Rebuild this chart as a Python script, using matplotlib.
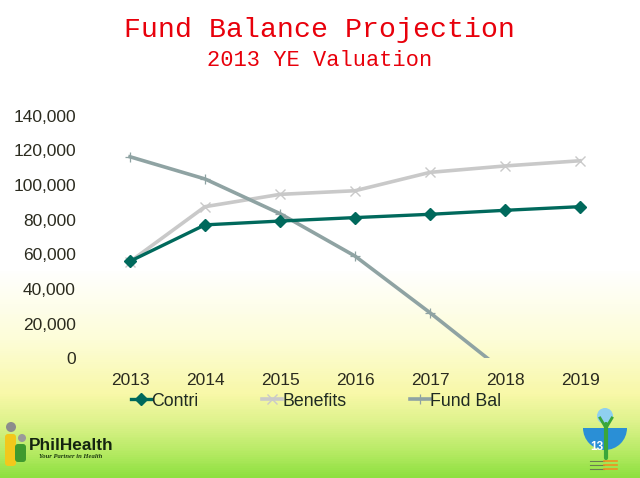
import matplotlib
matplotlib.use("Agg")
import matplotlib.pyplot as plt
import numpy as np
from matplotlib.colors import LinearSegmentedColormap
from matplotlib.patches import Circle, FancyBboxPatch, Wedge

years = ["2013", "2014", "2015", "2016", "2017", "2018", "2019"]
contri = [56000, 77000, 79200, 81200, 83100, 85400, 87500]
benefits = [55800, 87500, 94600, 96700, 107300, 111000, 114000]
fund_bal = [116300, 103500, 83500, 59000, 26300, -8000]

yticks = [0, 20000, 40000, 60000, 80000, 100000, 120000, 140000]

W, H = 640, 478
fig = plt.figure(figsize=(W / 100, H / 100), dpi=100)

# slide background: white fading into yellow then green at the bottom
bg = fig.add_axes([0, 0, 1, 1], zorder=-10)
stops = [(0.0, "#ffffff"), (270 / H, "#ffffff"), (340 / H, "#fdfdd8"),
         (395 / H, "#f8f8a8"), (425 / H, "#dcf28a"), (455 / H, "#b4ea62"),
         (1.0, "#8ee040")]
cmap = LinearSegmentedColormap.from_list("slide", stops)
grad = np.linspace(0, 1, 478).reshape(-1, 1)
bg.imshow(grad, aspect="auto", cmap=cmap, extent=[0, W, H, 0])
bg.set_xlim(0, W)
bg.set_ylim(H, 0)
bg.axis("off")

fig.text(0.5, 1 - 37 / H, "Fund Balance Projection", ha="center", va="baseline",
         color="#e8000b", fontsize=20.3, family="Liberation Mono")
fig.text(0.5, 1 - 65.7 / H, "2013 YE Valuation", ha="center", va="baseline",
         color="#e8000b", fontsize=15.8, family="Liberation Mono")

ax = fig.add_axes([92.5 / W, 119.7 / H, 525 / W, 242.6 / H])
ax.patch.set_alpha(0)
x = np.arange(len(years))
ax.plot(x, contri, color="#00695c", lw=2.4, marker="D", ms=6, label="Contri", zorder=4)
ax.plot(x, benefits, color="#c9c9c9", lw=2.6, marker="x", ms=7, mew=1.0, label="Benefits", zorder=3)
ax.plot(x[:len(fund_bal)], fund_bal, color="#8fa3a3", lw=2.6, marker="+", ms=7, mew=0.9,
        label="Fund Bal", zorder=3)

ax.set_xlim(-0.5, len(years) - 0.5)
ax.set_ylim(0, 140000)
ax.set_xticks(x)
ax.set_xticklabels(years)
ax.set_yticks(yticks)
ax.set_yticklabels([f"{v:,}" for v in yticks])
ax.tick_params(length=0, labelsize=12.5, labelcolor="#2b2b1f", pad=12)
for lab in ax.get_xticklabels() + ax.get_yticklabels():
    lab.set_family("Liberation Sans")
ax.tick_params(axis="x", pad=10.5)
for s in ax.spines.values():
    s.set_visible(False)

leg = fig.legend(loc="center left", bbox_to_anchor=(131 / W, 1 - 401 / H), ncol=3,
                 frameon=False, handlelength=1.12, handletextpad=0.0, columnspacing=3.6,
                 borderpad=0, borderaxespad=0,
                 prop={"family": "Liberation Sans", "size": 12.8})
for t in leg.get_texts():
    t.set_color("#1f2a22")

# PhilHealth logo (bottom left)
logo = fig.add_axes([0, 0, 1, 1], zorder=5)
logo.set_xlim(0, W)
logo.set_ylim(H, 0)
logo.axis("off")
logo.add_patch(FancyBboxPatch((5, 434), 11, 32, boxstyle="round,pad=0,rounding_size=3",
                              fc="#f2c81c", ec="none"))
logo.add_patch(FancyBboxPatch((15, 444), 11, 18, boxstyle="round,pad=0,rounding_size=3",
                              fc="#3f9a2e", ec="none"))
logo.add_patch(Circle((11, 427), 5, fc="#8c8c8c", ec="none"))
logo.add_patch(Circle((22, 438), 4, fc="#9a9a9a", ec="none"))
logo.text(29, 445, "PhilHealth", ha="left", va="center", fontsize=12.4, weight="bold",
          family="Liberation Sans", color="#142410")
logo.text(39, 457, "Your Partner in Health", ha="left", va="center", fontsize=4.8,
          style="italic", weight="bold", family="Liberation Serif", color="#1d3a10")

# anniversary logo (bottom right)
logo.add_patch(Wedge((605, 428), 22, 0, 180, fc="#2a8fd6", ec="none"))
logo.add_patch(Circle((605, 416), 8, fc="#8fd0f0", ec="none"))
logo.plot([606, 606], [424, 458], color="#3aa63a", lw=3, solid_capstyle="round")
logo.plot([600, 606, 612], [418, 428, 418], color="#3aa63a", lw=2)
logo.text(597, 447, "13", ha="center", va="center", fontsize=8.5, weight="bold",
          color="white", family="Liberation Sans")
for i, yy in enumerate([461, 465, 469]):
    logo.plot([590, 604], [yy, yy], color="#6a7a50", lw=0.8)
    logo.plot([604, 617], [yy, yy], color="#f09020", lw=1.2)

fig.savefig("out.png", dpi=100)
